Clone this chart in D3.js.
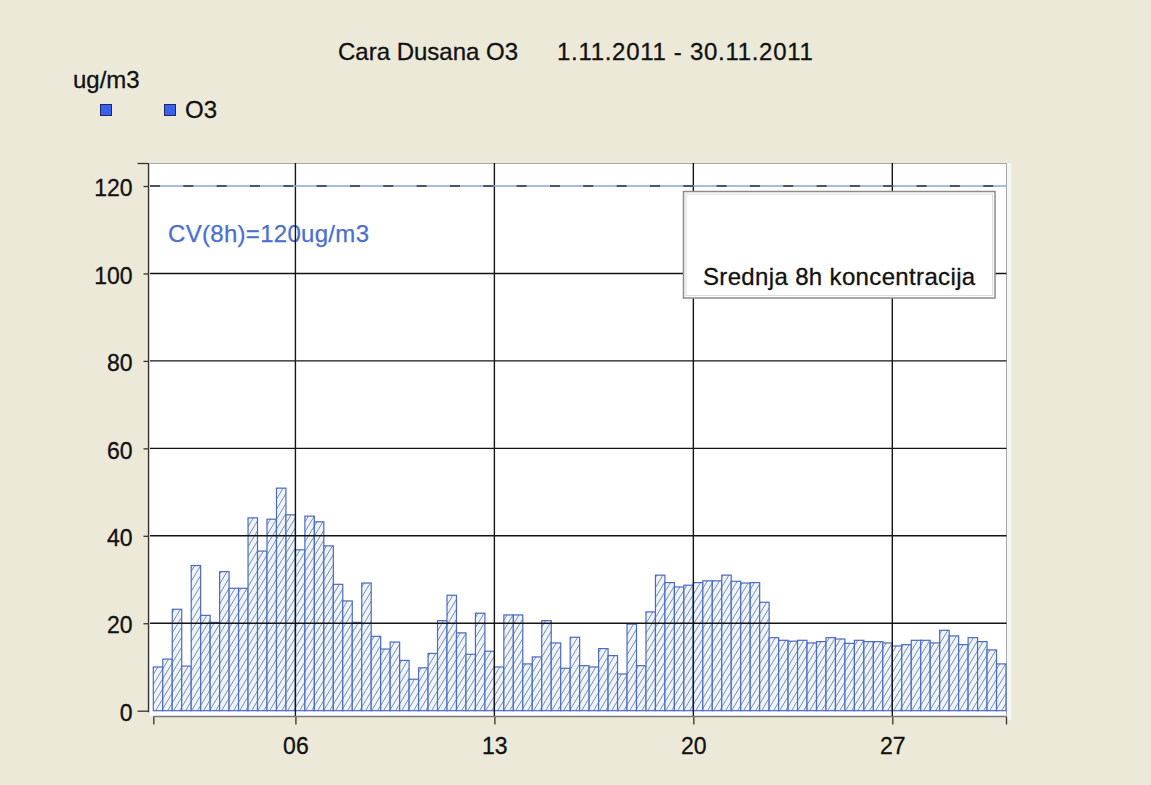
<!DOCTYPE html>
<html>
<head>
<meta charset="utf-8">
<script src="https://cdn.jsdelivr.net/npm/d3@7"></script>
<style>
  body { margin: 0; background: #ECE9D8; }
  svg { display: block; font-family: "Liberation Sans", Arial, sans-serif; }
  .txt { stroke: #111; stroke-width: 0.3; fill: #111; }
</style>
</head>
<body>
<svg id="chart" width="1151" height="785"></svg>
<script>
// ---- data ----
const titleStation = "Cara Dusana O3";
const titlePeriod = "1.11.2011 - 30.11.2011";
const unitLabel = "ug/m3";
const seriesName = "O3";
const limitValue = 120;
const limitLabel = "CV(8h)=120ug/m3";
const legendText = "Srednja 8h koncentracija";

// 8-hour mean O3 concentrations, 3 per day, 1.11.2011 - 30.11.2011
const o3Values = [
  10.0, 11.8, 23.2,  10.2, 33.2, 21.8,  20.2, 31.8, 28.0,  28.0, 44.1, 36.5,
  43.8, 50.9, 44.8,  36.8, 44.5, 43.2,  37.7, 28.9, 25.1,  20.2, 29.2, 17.0,
  14.1, 15.7, 11.5,   7.2,  9.8, 13.1,  20.6, 26.4, 17.8,  12.9, 22.3, 13.6,
  10.0, 21.9, 21.9,  10.7, 12.3, 20.6,  15.5,  9.7, 16.8,  10.3, 10.0, 14.2,
  12.6,  8.4, 19.8,  10.3, 22.6, 31.0,  29.3, 28.3, 28.7,  29.3, 29.7, 29.7,
  31.0, 29.6, 29.2,  29.3, 24.8, 16.7,  16.1, 15.9, 16.1,  15.5, 15.8, 16.7,
  16.4, 15.4, 16.1,  15.8, 15.8, 15.5,  14.8, 15.1, 16.1,  16.1, 15.5, 18.4,
  17.1, 15.1, 16.7,  15.8, 13.9, 10.7
];
const valuesPerDay = 3;
const dayCount = 30;
const tickDays = [6, 13, 20, 27];
const tickDayLabels = ["06", "13", "20", "27"];
const yTicks = [0, 20, 40, 60, 80, 100, 120];

// ---- layout ----
const svg = d3.select("#chart");
const plotLeft = 150, plotRight = 1006.5, plotTop = 163, plotBottom = 716;
const barLeft = 153.3, barRight = 1006;
const y0 = 710.7, y120 = 186;

const x = d3.scaleLinear().domain([0, dayCount * valuesPerDay]).range([barLeft, barRight]);
const y = d3.scaleLinear().domain([0, 120]).range([y0, y120]);

// pattern
const defs = svg.append("defs");
const pat = defs.append("pattern").attr("id", "hatch")
  .attr("patternUnits", "userSpaceOnUse").attr("width", 6).attr("height", 10);
pat.append("rect").attr("width", 6).attr("height", 10).attr("fill", "#ecf4ff");
pat.append("path")
  .attr("d", "M-1,11.667 L7,-1.667 M-1,1.667 L1,-1.667 M5,11.667 L7,8.333")
  .attr("stroke", "#76808f").attr("stroke-width", 0.9).attr("fill", "none");

// plot panel
svg.append("rect").attr("x", plotRight).attr("y", plotTop).attr("width", 5).attr("height", plotBottom - plotTop + 4)
  .attr("fill", "#f7f7f4");
svg.append("rect").attr("x", plotLeft).attr("y", plotTop).attr("width", plotRight - plotLeft).attr("height", plotBottom - plotTop)
  .attr("fill", "#ffffff");
svg.append("line").attr("x1", plotLeft).attr("x2", plotRight).attr("y1", plotTop + 0.5).attr("y2", plotTop + 0.5)
  .attr("stroke", "#a8a8a8");
svg.append("line").attr("x1", plotRight).attr("x2", plotRight).attr("y1", plotTop).attr("y2", plotBottom)
  .attr("stroke", "#a8a8a8");

// limit label (under grid)
svg.append("text").attr("x", 168).attr("y", 242).attr("font-size", 24).attr("letter-spacing", 0.3)
  .attr("fill", "#4a6fd0").attr("stroke", "#4a6fd0").attr("stroke-width", 0.25)
  .text(limitLabel);

// bars
svg.append("g").selectAll("rect").data(o3Values).join("rect")
  .attr("x", (d, i) => x(i))
  .attr("width", (d, i) => x(i + 1) - x(i))
  .attr("y", d => y(d))
  .attr("height", d => y(0) - y(d))
  .attr("fill", "url(#hatch)")
  .attr("stroke", "#4b69c6")
  .attr("stroke-width", 1.2);

// horizontal grid
const gridG = svg.append("g");
gridG.selectAll("line.h").data(yTicks.filter(t => t > 0 && t < limitValue)).join("line")
  .attr("class", "h")
  .attr("x1", plotLeft).attr("x2", plotRight)
  .attr("y1", d => y(d)).attr("y2", d => y(d))
  .attr("stroke", "#151515").attr("stroke-width", 1.4);
// vertical grid
gridG.selectAll("line.v").data(tickDays).join("line")
  .attr("class", "v")
  .attr("x1", d => x((d - 1) * valuesPerDay)).attr("x2", d => x((d - 1) * valuesPerDay))
  .attr("y1", plotTop).attr("y2", plotBottom)
  .attr("stroke", "#151515").attr("stroke-width", 1.4);

// limit line
svg.append("line").attr("x1", plotLeft).attr("x2", plotRight)
  .attr("y1", y(limitValue)).attr("y2", y(limitValue))
  .attr("stroke", "#8aa6d8").attr("stroke-width", 1.5);
svg.append("line").attr("x1", plotLeft + 0).attr("x2", plotRight)
  .attr("y1", y(limitValue)).attr("y2", y(limitValue))
  .attr("stroke", "#333").attr("stroke-width", 1.5)
  .attr("stroke-dasharray", "10,23.33");

// legend box (covers grid)
const lb = { x: 683.5, y: 191.5, w: 311.5, h: 106.5 };
svg.append("rect").attr("x", lb.x).attr("y", lb.y).attr("width", lb.w).attr("height", lb.h)
  .attr("fill", "#ffffff").attr("stroke", "#8c8c8c").attr("stroke-width", 1.5);
svg.append("rect").attr("x", lb.x + 2.5).attr("y", lb.y + 2.5).attr("width", lb.w - 5).attr("height", lb.h - 5)
  .attr("fill", "none").attr("stroke", "#dcdcdc").attr("stroke-width", 1);
svg.append("text").attr("class", "txt").attr("x", lb.x + lb.w / 2).attr("y", 285).attr("text-anchor", "middle")
  .attr("font-size", 24).attr("letter-spacing", 0.35).text(legendText);

// y axis
const yAxis = d3.axisLeft(y).tickValues(yTicks).tickSize(5).tickPadding(11);
const yG = svg.append("g").attr("transform", "translate(148.5,0)").call(yAxis);
yG.select(".domain").remove();
yG.append("line").attr("x1", 0).attr("x2", 0).attr("y1", plotTop).attr("y2", y0 + 1.5)
  .attr("stroke", "#333").attr("stroke-width", 1.3);
yG.append("line").attr("x1", -11).attr("x2", 0).attr("y1", plotTop + 0.5).attr("y2", plotTop + 0.5)
  .attr("stroke", "#333").attr("stroke-width", 1.3);
yG.selectAll(".tick line").attr("stroke", "#333").attr("stroke-width", 1.3)
  .attr("x2", d => d === 0 ? -11 : -5);
yG.selectAll(".tick text").attr("class", "txt").attr("font-size", 23)
  .attr("font-family", "'Liberation Sans', Arial, sans-serif").attr("dy", "0.42em")
  .attr("x", -16);

// x axis
const xTickIdx = tickDays.map(d => (d - 1) * valuesPerDay);
const xAxis = d3.axisBottom(x).tickValues([0].concat(xTickIdx, [dayCount * valuesPerDay]))
  .tickSize(8).tickPadding(13)
  .tickFormat(d => { const k = xTickIdx.indexOf(d); return k >= 0 ? tickDayLabels[k] : ""; });
const xG = svg.append("g").attr("transform", "translate(0,716.5)").call(xAxis);
xG.select(".domain").remove();
xG.append("line").attr("x1", x(0)).attr("x2", x(dayCount * valuesPerDay)).attr("y1", 0).attr("y2", 0)
  .attr("stroke", "#777").attr("stroke-width", 1.3);
xG.selectAll(".tick line").attr("stroke", "#333").attr("stroke-width", 1.3);
xG.selectAll(".tick text").attr("class", "txt").attr("font-size", 23)
  .attr("font-family", "'Liberation Sans', Arial, sans-serif");

// title
const t = svg.append("text").attr("class", "txt").attr("y", 60).attr("font-size", 24);
t.append("tspan").attr("x", 338).text(titleStation);
t.append("tspan").attr("x", 557).attr("letter-spacing", 0.7).text(titlePeriod);

// unit + legend
svg.append("text").attr("class", "txt").attr("x", 73).attr("y", 88).attr("font-size", 24).text(unitLabel);
svg.append("rect").attr("x", 100.5).attr("y", 104.5).attr("width", 11).attr("height", 11)
  .attr("fill", "#3a62ee").attr("stroke", "#1c2a5c");
svg.append("rect").attr("x", 164.5).attr("y", 104.5).attr("width", 11).attr("height", 11)
  .attr("fill", "#3a62ee").attr("stroke", "#1c2a5c");
svg.append("text").attr("class", "txt").attr("x", 185).attr("y", 118).attr("font-size", 24).text(seriesName);
</script>
</body>
</html>
